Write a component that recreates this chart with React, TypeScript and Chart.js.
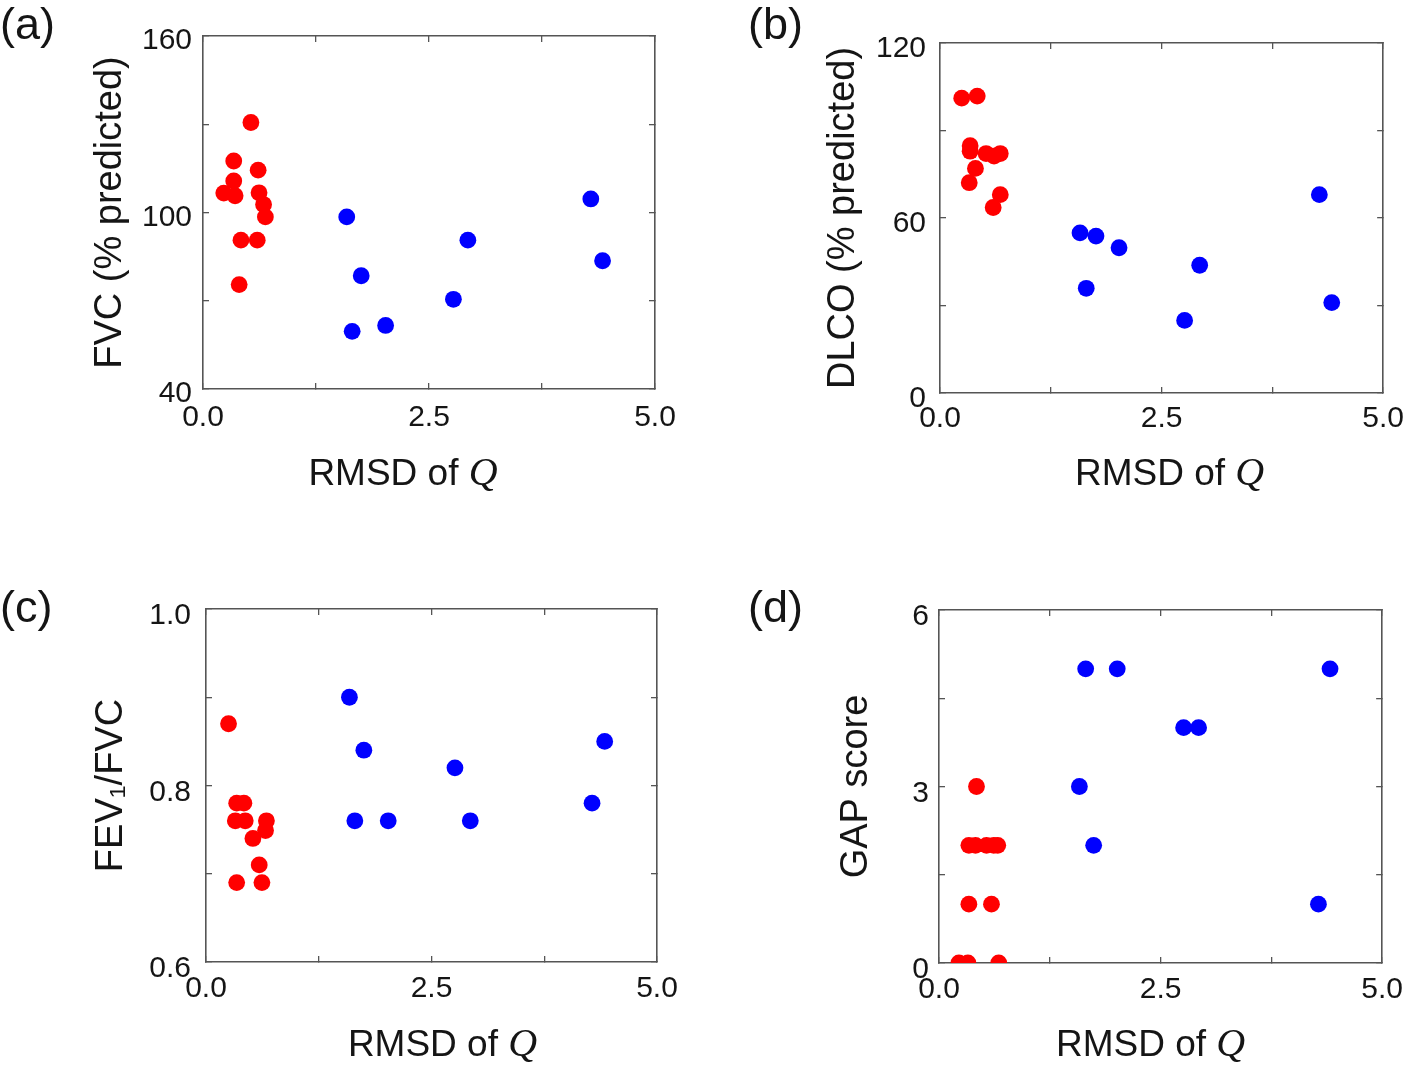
import React, { useEffect, useRef } from 'react';
import { Chart, registerables } from 'chart.js';

Chart.register(...registerables);

const FONT = "'Liberation Sans', Arial, Helvetica, sans-serif";
const SERIF = "'Liberation Serif', 'Times New Roman', serif";
const TEXT = '#151515';
const AXIS = '#555555';

// ---- shared x axis ----
const xTickLabels = [0, 2.5, 5];

// ---- (a) FVC ----
const redXA = [0.53, 0.34, 0.61, 0.34, 0.23, 0.355, 0.62, 0.67, 0.69, 0.42, 0.6, 0.4];
const redYA = [130.6, 117.5, 114.4, 110.7, 106.6, 105.7, 106.7, 102.7, 98.5, 90.6, 90.6, 75.5];
const blueXA = [1.59, 1.75, 1.65, 2.02, 2.77, 2.93, 4.29, 4.42];
const blueYA = [98.5, 78.5, 59.6, 61.6, 70.5, 90.6, 104.6, 83.6];
const yTickLabelsA = [40, 100, 160];

// ---- (b) DLCO ----
const redXB = [0.245, 0.42, 0.34, 0.34, 0.52, 0.61, 0.68, 0.4, 0.33, 0.68, 0.6];
const redYB = [101.1, 101.8, 84.8, 82.9, 82.1, 81.2, 82.1, 77, 72.1, 68, 63.6];
const blueXB = [1.58, 1.76, 2.02, 1.65, 2.76, 2.93, 4.28, 4.42];
const blueYB = [54.9, 53.8, 49.8, 35.9, 24.9, 43.8, 68, 31];
const yTickLabelsB = [0, 60, 120];

// ---- (c) FEV1/FVC ----
const redXC = [0.25, 0.34, 0.42, 0.325, 0.435, 0.67, 0.66, 0.52, 0.59, 0.34, 0.62];
const redYC = [0.87, 0.78, 0.78, 0.76, 0.76, 0.76, 0.749, 0.74, 0.71, 0.69, 0.69];
const blueXC = [1.59, 1.75, 1.65, 2.02, 2.76, 2.93, 4.28, 4.42];
const blueYC = [0.9, 0.84, 0.76, 0.76, 0.82, 0.76, 0.78, 0.85];
const yTickLabelsC = [0.6, 0.8, 1.0];

// ---- (d) GAP score ----
const redXD = [0.225, 0.326, 0.674, 0.337, 0.592, 0.337, 0.412, 0.536, 0.618, 0.663, 0.423];
const redYD = [0, 0, 0, 1, 1, 2, 2, 2, 2, 2, 3];
const blueXD = [1.655, 2.011, 4.412, 2.76, 2.929, 1.584, 1.745, 4.281];
const blueYD = [5, 5, 5, 4, 4, 3, 2, 1];
const yTickLabelsD = [0, 3, 6];

type Panel = {
  letter: string;
  left: number;
  top: number;
  plot: { L: number; T: number; R: number; B: number };
  yMin: number;
  yMax: number;
  yStep: number;
  yLabels: number[];
  yDecimals: number;
  yTitle: string;
  yTitlePad: number;
  yLabelPad: number;
  yLabelOffset: number;
  xLabelPad: number;
  xTitleDx: number;
  xTitleBase: number;
  letterX: number;
  letterY: number;
  redX: number[];
  redY: number[];
  blueX: number[];
  blueY: number[];
};

const W = 709;
const H = 533;

const panels: Panel[] = [
  {
    letter: '(a)', left: 0, top: 0,
    plot: { L: 203, T: 36, R: 655, B: 389 },
    yMin: 40, yMax: 160, yStep: 30, yLabels: yTickLabelsA, yDecimals: 0,
    yTitle: 'FVC (% predicted)', yTitlePad: 88, yLabelPad: 17, yLabelOffset: 5,
    xLabelPad: 17, xTitleDx: -26, xTitleBase: 485, letterX: 0, letterY: 27,
    redX: redXA, redY: redYA, blueX: blueXA, blueY: blueYA,
  },
  {
    letter: '(b)', left: 709, top: 0,
    plot: { L: 231, T: 43, R: 686, B: 393 },
    yMin: 0, yMax: 120, yStep: 30, yLabels: yTickLabelsB, yDecimals: 0,
    yTitle: 'DLCO (% predicted)', yTitlePad: 112, yLabelPad: 20, yLabelOffset: 6,
    xLabelPad: 14, xTitleDx: 8, xTitleBase: 485, letterX: 39, letterY: 27,
    redX: redXB, redY: redYB, blueX: blueXB, blueY: blueYB,
  },
  {
    letter: '(c)', left: 0, top: 533,
    plot: { L: 206, T: 76, R: 657, B: 429 },
    yMin: 0.6, yMax: 1.0, yStep: 0.1, yLabels: yTickLabelsC, yDecimals: 1,
    yTitle: 'FEV\u2081/FVC', yTitlePad: 89, yLabelPad: 21, yLabelOffset: 7,
    xLabelPad: 15, xTitleDx: 11, xTitleBase: 523, letterX: 0, letterY: 77,
    redX: redXC, redY: redYC, blueX: blueXC, blueY: blueYC,
  },
  {
    letter: '(d)', left: 709, top: 533,
    plot: { L: 230, T: 77, R: 683, B: 430 },
    yMin: 0, yMax: 6, yStep: 1.5, yLabels: yTickLabelsD, yDecimals: 0,
    yTitle: 'GAP score', yTitlePad: 125, yLabelPad: 16, yLabelOffset: 7,
    xLabelPad: 15, xTitleDx: -10, xTitleBase: 523, letterX: 39, letterY: 77,
    redX: redXD, redY: redYD, blueX: blueXD, blueY: blueYD,
  },
];

const near = (v: number, list: number[]) => list.some((t) => Math.abs(t - v) < 1e-6);

function toPoints(xs: number[], ys: number[]) {
  return xs.map((x, i) => ({ x, y: ys[i] }));
}

function PanelChart({ p }: { p: Panel }) {
  const ref = useRef<HTMLCanvasElement | null>(null);

  useEffect(() => {
    if (!ref.current) return;
    const gridOpts = {
      drawOnChartArea: false,
      drawTicks: true,
      tickLength: -6,
      color: AXIS,
      lineWidth: 1.3,
    };
    const borderOpts = { display: true, color: AXIS, width: 1.6 };
    const tickFont = { family: FONT, size: 30 };

    const annot = {
      id: 'annot',
      afterDraw(chart: any) {
        const ctx = chart.ctx as CanvasRenderingContext2D;
        const ca = chart.chartArea;
        ctx.save();
        ctx.fillStyle = TEXT;
        ctx.textAlign = 'left';
        ctx.textBaseline = 'middle';
        ctx.font = `45px ${FONT}`;
        ctx.fillText(p.letter, p.letterX, p.letterY);

        const f1 = `37px ${FONT}`;
        const f2 = `italic 40px ${SERIF}`;
        ctx.font = f1;
        const w1 = ctx.measureText('RMSD of ').width;
        ctx.font = f2;
        const w2 = ctx.measureText('Q').width;
        const cx = (ca.left + ca.right) / 2 + p.xTitleDx;
        const x0 = cx - (w1 + w2) / 2;
        ctx.textBaseline = 'alphabetic';
        ctx.font = f1;
        ctx.fillText('RMSD of ', x0, p.xTitleBase);
        ctx.font = f2;
        ctx.fillText('Q', x0 + w1, p.xTitleBase);
        ctx.restore();
      },
    };

    const chart = new Chart(ref.current, {
      type: 'scatter',
      data: {
        datasets: [
          {
            label: 'red',
            data: toPoints(p.redX, p.redY),
            backgroundColor: '#ff0000',
            borderColor: '#ff0000',
            borderWidth: 0,
            pointRadius: 8.4,
            pointHoverRadius: 8.4,
            clip: 0,
          },
          {
            label: 'blue',
            data: toPoints(p.blueX, p.blueY),
            backgroundColor: '#0000ff',
            borderColor: '#0000ff',
            borderWidth: 0,
            pointRadius: 8.4,
            pointHoverRadius: 8.4,
            clip: 0,
          },
        ],
      },
      options: {
        responsive: false,
        animation: false,
        events: [],
        layout: {
          padding: { top: p.plot.T, right: W - p.plot.R, bottom: 0, left: 0 },
        },
        plugins: {
          legend: { display: false },
          tooltip: { enabled: false },
          title: { display: false },
        },
        scales: {
          x: {
            type: 'linear',
            position: 'bottom',
            min: 0,
            max: 5,
            afterFit: (s: any) => {
              s.height = H - p.plot.B;
            },
            ticks: {
              stepSize: 1.25,
              autoSkip: false,
              maxRotation: 0,
              padding: p.xLabelPad,
              color: TEXT,
              font: tickFont,
              callback: (v: any) => (near(Number(v), xTickLabels) ? Number(v).toFixed(1) : ''),
            },
            grid: gridOpts,
            border: borderOpts,
          },
          x2: {
            type: 'linear',
            position: 'top',
            min: 0,
            max: 5,
            afterFit: (s: any) => {
              s.height = 0;
            },
            ticks: { stepSize: 1.25, display: false },
            grid: gridOpts,
            border: borderOpts,
          },
          y: {
            type: 'linear',
            position: 'left',
            min: p.yMin,
            max: p.yMax,
            afterFit: (s: any) => {
              s.width = p.plot.L;
            },
            ticks: {
              stepSize: p.yStep,
              autoSkip: false,
              padding: p.yLabelPad,
              labelOffset: p.yLabelOffset,
              color: TEXT,
              font: tickFont,
              callback: (v: any) =>
                near(Number(v), p.yLabels) ? Number(v).toFixed(p.yDecimals) : '',
            },
            title: {
              display: true,
              text: p.yTitle,
              color: TEXT,
              font: { family: FONT, size: 38 },
              padding: { top: p.yTitlePad, bottom: 0 },
            },
            grid: gridOpts,
            border: borderOpts,
          },
          y2: {
            type: 'linear',
            position: 'right',
            min: p.yMin,
            max: p.yMax,
            afterFit: (s: any) => {
              s.width = 0;
            },
            ticks: { stepSize: p.yStep, display: false },
            grid: gridOpts,
            border: borderOpts,
          },
        },
      } as any,
      plugins: [annot],
    });
    return () => chart.destroy();
  }, [p]);

  return (
    <canvas
      ref={ref}
      width={W}
      height={H}
      style={{ position: 'absolute', left: p.left, top: p.top, width: W, height: H }}
    />
  );
}

export default function App() {
  return (
    <div
      style={{
        position: 'absolute',
        left: 0,
        top: 0,
        width: 1418,
        height: 1066,
        background: '#ffffff',
        overflow: 'hidden',
      }}
    >
      {panels.map((p) => (
        <PanelChart key={p.letter} p={p} />
      ))}
    </div>
  );
}
